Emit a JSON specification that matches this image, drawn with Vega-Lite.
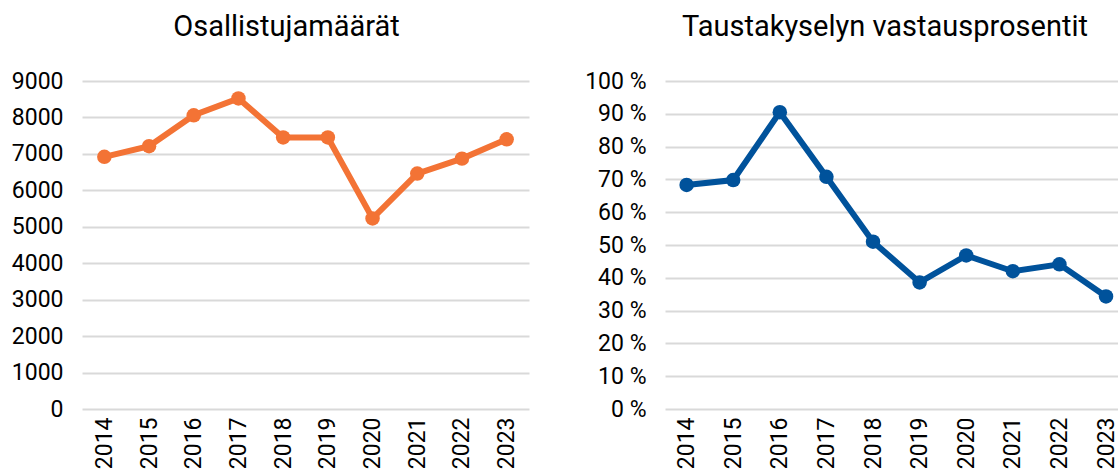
{
  "$schema": "https://vega.github.io/schema/vega-lite/v6.json",
  "background": "white",
  "padding": {"left": 11, "top": 13, "right": 0, "bottom": 0},
  "config": {
    "font": "Roboto",
    "view": {"stroke": null},
    "axis": {"labelFont": "Roboto", "labelFontSize": 23, "labelColor": "#000000", "domain": false, "ticks": false, "gridColor": "#d9d9d9", "gridWidth": 2, "title": null},
    "title": {"font": "Roboto", "fontSize": 29, "fontWeight": "normal", "color": "#000000", "anchor": "middle", "baseline": "alphabetic"}
  },
  "data": {"values": [
    {"vuosi": 2014, "osallistujat": 6920, "vastausprosentti": 68.3},
    {"vuosi": 2015, "osallistujat": 7210, "vastausprosentti": 69.8},
    {"vuosi": 2016, "osallistujat": 8060, "vastausprosentti": 90.5},
    {"vuosi": 2017, "osallistujat": 8520, "vastausprosentti": 70.8},
    {"vuosi": 2018, "osallistujat": 7450, "vastausprosentti": 51.0},
    {"vuosi": 2019, "osallistujat": 7450, "vastausprosentti": 38.6},
    {"vuosi": 2020, "osallistujat": 5230, "vastausprosentti": 46.8},
    {"vuosi": 2021, "osallistujat": 6460, "vastausprosentti": 42.0},
    {"vuosi": 2022, "osallistujat": 6870, "vastausprosentti": 44.1},
    {"vuosi": 2023, "osallistujat": 7400, "vastausprosentti": 34.3}
  ]},
  "spacing": 55,
  "hconcat": [
    {
      "width": 447,
      "height": 328,
      "title": {"text": "Osallistujamäärät", "dx": -19, "offset": 28},
      "mark": {"type": "line", "color": "#F37335", "strokeWidth": 6, "point": {"filled": true, "size": 210, "color": "#F37335"}},
      "encoding": {
        "x": {"field": "vuosi", "type": "ordinal", "scale": {"type": "point", "padding": 0.5}, "axis": {"labelAngle": -90, "labelPadding": 8, "grid": false}},
        "y": {"field": "osallistujat", "type": "quantitative", "scale": {"domain": [0, 9000]}, "axis": {"values": [0, 1000, 2000, 3000, 4000, 5000, 6000, 7000, 8000, 9000], "format": "d", "labelPadding": 19}}
      }
    },
    {
      "width": 453,
      "height": 328,
      "title": {"text": "Taustakyselyn vastausprosentit", "dx": -6.5, "offset": 28},
      "mark": {"type": "line", "color": "#00529B", "strokeWidth": 6, "point": {"filled": true, "size": 210, "color": "#00529B"}},
      "encoding": {
        "x": {"field": "vuosi", "type": "quantitative", "scale": {"domain": [2013.536, 2023.257], "nice": false, "zero": false}, "axis": {"values": [2014, 2015, 2016, 2017, 2018, 2019, 2020, 2021, 2022, 2023], "format": "d", "labelAngle": -90, "labelPadding": 8, "grid": false}},
        "y": {"field": "vastausprosentti", "type": "quantitative", "scale": {"domain": [0, 100]}, "axis": {"values": [0, 10, 20, 30, 40, 50, 60, 70, 80, 90, 100], "labelExpr": "datum.value + ' %'", "labelPadding": 19}}
      }
    }
  ]
}
